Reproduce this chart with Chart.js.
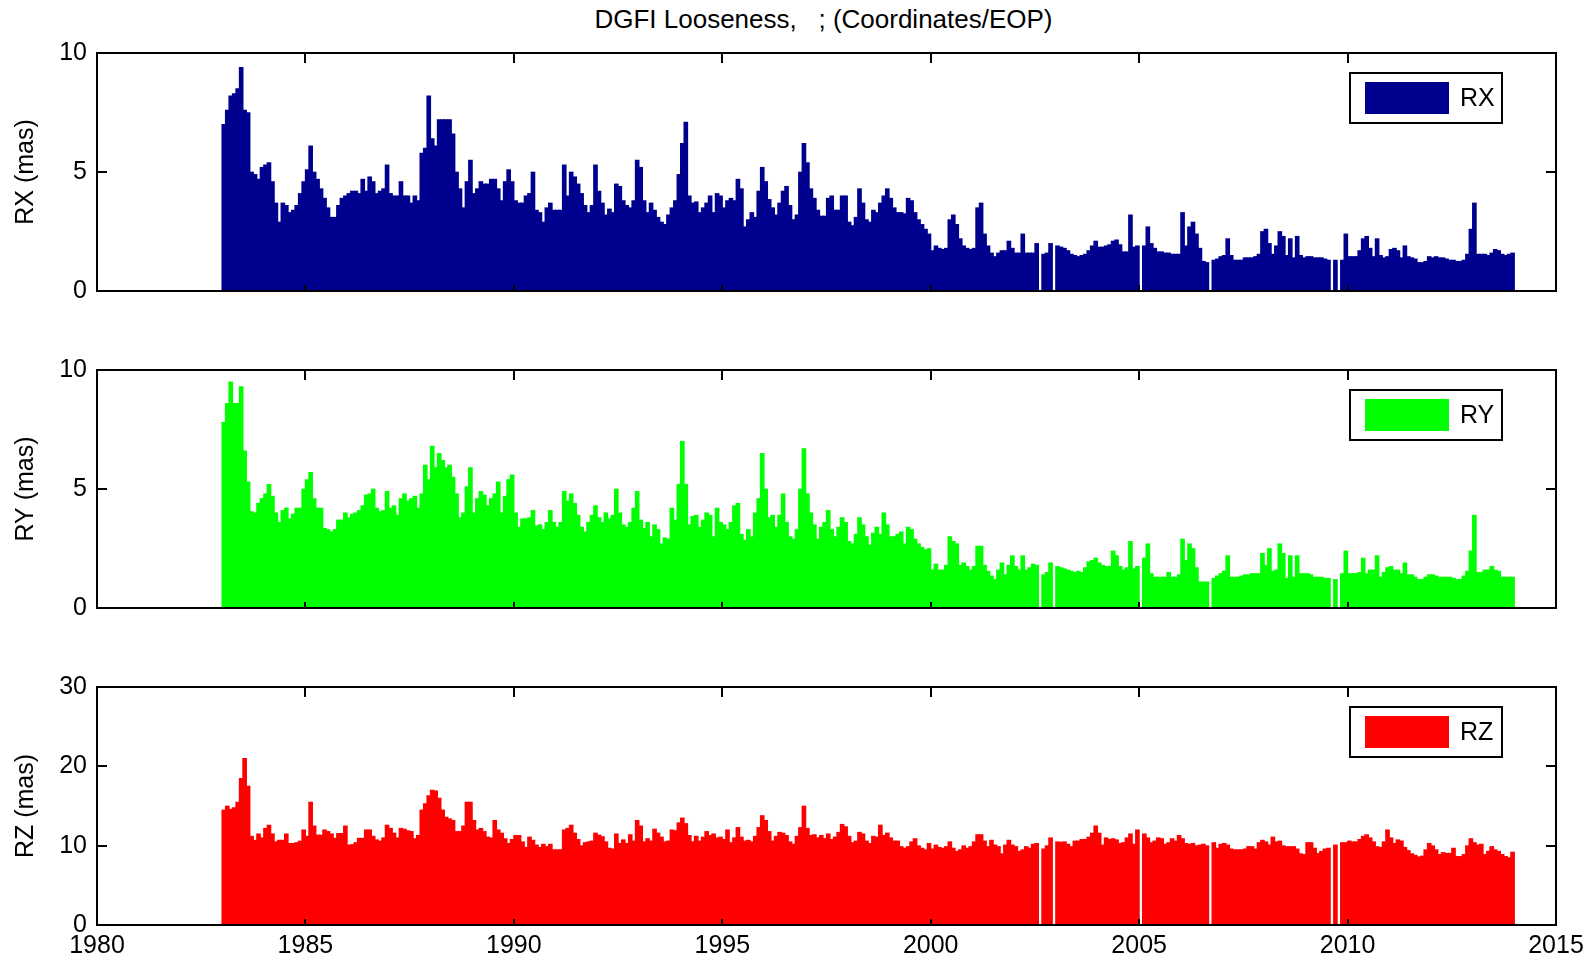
<!DOCTYPE html>
<html>
<head>
<meta charset="utf-8">
<title>DGFI Looseness</title>
<script src="https://cdn.jsdelivr.net/npm/chart.js@4.4.1/dist/chart.umd.min.js"></script>
<style>
  html, body { margin: 0; padding: 0; background: #fff; overflow: hidden; }
  body { width: 1594px; height: 957px; position: relative; font-family: 'Liberation Sans', Arial, Helvetica, sans-serif; }
  #title { position: absolute; left: 0; top: 6px; width: 1647px; text-align: center; font-size: 26px; line-height: 26px; white-space: pre; color: #000; }
  .panel { position: absolute; left: 0; width: 1594px; height: 308px; }
</style>
</head>
<body>
<div id="title">DGFI Looseness,   ; (Coordinates/EOP)</div>
<div class="panel" style="top:23px"><canvas id="rx"></canvas></div>
<div class="panel" style="top:340px"><canvas id="ry"></canvas></div>
<div class="panel" style="top:657px"><canvas id="rz"></canvas></div>
<script>
// one value per month, first bar is Jan 1983
var startYear = 1983;
var yearTicks = [1980, 1985, 1990, 1995, 2000, 2005, 2010, 2015];
var rxTicks = [0, 5, 10];
var ryTicks = [0, 5, 10];
var rzTicks = [0, 10, 20, 30];

var rx = [
  7.0, 7.6, 8.2, 8.3, 8.5, 9.4, 7.6, 7.5, 5.0, 4.9, 4.7, 5.2,
  5.3, 5.4, 4.6, 3.7, 2.9, 3.7, 3.6, 3.3, 3.4, 3.6, 4.1, 4.6,
  5.1, 6.1, 5.0, 4.7, 4.3, 3.9, 3.5, 3.1, 3.1, 3.6, 3.9, 4.0,
  4.1, 4.2, 4.2, 4.1, 4.7, 4.2, 4.8, 4.6, 4.1, 4.2, 4.3, 5.3,
  4.1, 4.0, 4.0, 4.6, 4.0, 4.0, 3.7, 4.0, 3.8, 5.8, 6.0, 8.2,
  6.4, 6.1, 7.2, 7.2, 7.2, 7.2, 6.6, 5.0, 4.3, 3.5, 4.6, 5.5,
  4.1, 4.3, 4.6, 4.5, 4.5, 4.7, 4.7, 4.3, 3.8, 4.6, 5.1, 4.6,
  3.8, 3.7, 3.7, 4.0, 4.1, 5.0, 3.4, 3.3, 2.9, 3.5, 3.7, 3.4,
  3.4, 3.4, 5.3, 4.0, 5.0, 4.8, 4.5, 4.1, 3.6, 3.3, 3.6, 5.3,
  4.2, 3.7, 3.2, 3.45, 3.3, 4.5, 4.4, 3.8, 3.6, 3.5, 3.8, 5.5,
  5.2, 3.8, 3.3, 3.7, 3.4, 3.1, 2.9, 2.8, 3.2, 3.5, 3.8, 4.9,
  6.2, 7.1, 4.0, 3.7, 3.75, 3.3, 3.5, 3.7, 4.0, 3.3, 4.1, 4.0,
  3.5, 3.8, 3.9, 3.8, 4.7, 4.3, 2.7, 3.0, 3.3, 3.1, 4.2, 5.2,
  4.6, 3.85, 3.5, 3.2, 3.7, 4.2, 4.4, 3.6, 3.0, 3.2, 5.0, 6.2,
  5.4, 4.3, 3.9, 3.4, 3.15, 3.15, 3.9, 4.0, 3.4, 3.4, 4.0, 4.0,
  2.9, 2.75, 3.1, 4.3, 3.7, 3.0, 2.9, 3.4, 3.3, 3.7, 4.0, 4.3,
  3.9, 3.5, 3.3, 3.3, 3.25, 3.9, 3.8, 3.3, 3.0, 2.8, 2.6, 2.4,
  1.7, 1.9, 1.8, 1.75, 1.8, 3.0, 3.2, 2.8, 2.2, 1.9, 1.8, 1.75,
  1.8, 3.5, 3.7, 2.4, 1.9, 1.6, 1.45, 1.6, 1.7, 1.7, 2.1, 1.8,
  1.6, 1.6, 2.4, 1.6, 1.6, 1.6, 2.0, 0, 1.55, 1.6, 2.0, 0,
  1.9, 1.85, 1.8, 1.7, 1.55, 1.5, 1.45, 1.5, 1.55, 1.7, 1.9, 2.1,
  1.85, 1.85, 1.9, 1.95, 2.1, 2.15, 1.95, 1.65, 1.65, 3.2, 1.85, 1.9,
  0, 1.9, 2.7, 2.0, 1.8, 1.65, 1.65, 1.6, 1.6, 1.55, 1.55, 1.55,
  3.3, 1.9, 2.7, 2.9, 2.4, 1.8, 1.25, 1.2, 0, 1.3, 1.35, 1.45,
  1.5, 2.2, 1.5, 1.3, 1.3, 1.3, 1.4, 1.4, 1.4, 1.45, 1.55, 2.5,
  2.6, 2.0, 1.55, 1.9, 2.5, 2.3, 1.5, 2.2, 1.4, 2.3, 1.5, 1.4,
  1.45, 1.45, 1.4, 1.4, 1.4, 1.35, 1.3, 0, 1.3, 0, 1.3, 2.4,
  1.45, 1.45, 1.45, 1.7, 2.2, 2.3, 1.8, 1.45, 2.2, 1.5, 1.4, 1.45,
  1.75, 1.8, 1.7, 1.4, 1.9, 1.45, 1.4, 1.35, 1.2, 1.2, 1.25, 1.45,
  1.4, 1.45, 1.4, 1.4, 1.35, 1.3, 1.3, 1.25, 1.25, 1.3, 1.55, 2.6,
  3.7, 1.55, 1.55, 1.55, 1.5, 1.6, 1.75, 1.7, 1.55, 1.5, 1.55, 1.6
];

var ry = [
  7.8, 8.6, 9.5, 8.6, 8.6, 9.3, 6.6, 5.3, 4.05, 4.0, 4.4, 4.6,
  4.8, 5.2, 4.7, 4.0, 3.6, 4.1, 4.2, 3.75, 3.95, 4.2, 4.2, 5.0,
  5.4, 5.7, 4.6, 4.2, 4.2, 3.35, 3.3, 3.2, 3.3, 3.7, 3.7, 4.0,
  3.8, 3.95, 4.0, 4.1, 4.3, 4.75, 4.8, 5.0, 4.2, 4.05, 4.1, 4.9,
  4.2, 4.3, 3.9, 4.6, 4.8, 4.5, 4.6, 4.7, 4.2, 4.8, 6.0, 5.4,
  6.8, 5.9, 6.5, 6.2, 5.9, 6.0, 5.5, 4.8, 3.8, 4.0, 5.1, 5.9,
  4.0, 4.6, 4.9, 4.75, 4.3, 4.6, 4.8, 5.3, 4.0, 4.7, 5.4, 5.6,
  4.0, 3.4, 3.75, 3.75, 3.8, 4.1, 3.45, 3.5, 3.3, 3.6, 4.1, 3.6,
  3.4, 3.6, 4.9, 4.5, 4.8, 4.4, 3.9, 3.4, 3.2, 3.6, 3.9, 4.3,
  3.8, 3.6, 4.0, 3.75, 3.9, 5.0, 4.0, 3.5, 3.4, 3.6, 4.2, 4.9,
  3.7, 3.35, 3.6, 3.0, 3.5, 3.3, 2.7, 2.95, 2.9, 4.2, 3.7, 5.2,
  7.0, 5.2, 3.5, 3.85, 3.9, 3.4, 3.7, 4.0, 3.9, 3.0, 4.2, 3.6,
  3.5, 3.3, 3.6, 4.3, 4.4, 3.1, 2.85, 3.3, 3.0, 4.0, 4.6, 6.5,
  5.0, 3.8, 3.9, 3.4, 3.9, 4.8, 3.6, 3.0, 2.9, 3.3, 5.0, 6.7,
  4.8, 4.0, 3.5, 2.9, 3.4, 3.6, 4.1, 3.3, 3.0, 3.4, 3.8, 3.6,
  2.8, 2.7, 3.1, 3.8, 3.5, 3.0, 2.65, 3.15, 3.4, 3.1, 4.0, 3.5,
  3.0, 3.0, 3.1, 3.2, 2.7, 3.4, 3.3, 2.9, 2.7, 2.55, 2.45, 2.5,
  1.6, 1.85, 1.6, 1.6, 1.8, 3.0, 2.8, 2.7, 1.8, 1.9, 1.75, 1.6,
  1.75, 2.6, 2.6, 1.8, 1.55, 1.35, 1.2, 1.6, 1.9, 1.4, 1.8, 2.2,
  1.75, 1.6, 2.2, 1.6, 1.7, 1.85, 1.8, 0, 1.4, 1.5, 1.9, 0,
  1.75, 1.7, 1.65, 1.6, 1.55, 1.5, 1.55, 1.5, 1.7, 1.95, 2.0, 2.1,
  1.9, 1.8, 1.75, 1.75, 2.4, 2.2, 1.75, 1.6, 1.7, 2.8, 1.65, 1.75,
  0, 2.1, 2.7, 1.45, 1.3, 1.3, 1.3, 1.3, 1.5, 1.3, 1.3, 1.4,
  2.9, 2.0, 2.7, 2.5, 1.7, 1.1, 1.1, 1.1, 0, 1.25, 1.35, 1.45,
  1.55, 2.2, 1.3, 1.3, 1.3, 1.35, 1.4, 1.4, 1.45, 1.45, 1.45, 2.3,
  1.8, 2.5, 1.55, 1.6, 2.7, 2.3, 1.25, 2.2, 1.3, 2.2, 1.45, 1.45,
  1.45, 1.4, 1.3, 1.3, 1.3, 1.25, 1.25, 0, 1.2, 0, 1.45, 2.4,
  1.45, 1.45, 1.45, 1.5, 2.1, 1.45, 1.6, 1.6, 2.2, 1.3, 1.5, 1.7,
  1.75, 1.6, 1.6, 1.45, 1.9, 1.4, 1.4, 1.3, 1.2, 1.2, 1.3, 1.4,
  1.4, 1.35, 1.3, 1.3, 1.3, 1.3, 1.25, 1.2, 1.2, 1.35, 1.55, 2.4,
  3.9, 1.5, 1.5, 1.6, 1.6, 1.75, 1.6, 1.55, 1.3, 1.3, 1.3, 1.3
];

var rz = [
  14.5, 15.0, 14.6, 14.8, 15.5, 18.5, 21.0, 17.5, 11.2, 10.7, 11.5, 11.0,
  12.2, 12.6, 11.5, 10.5, 10.7, 10.7, 11.5, 10.3, 10.3, 10.4, 10.6, 12.0,
  11.2, 15.5, 12.5, 11.35, 11.35, 12.0, 11.8, 11.5, 10.95, 11.55, 11.55, 12.5,
  10.1, 10.15, 10.4, 10.95, 10.95, 12.0, 12.0, 11.2, 10.75, 10.6, 11.0, 12.6,
  12.2, 11.6, 11.0, 12.2, 12.1, 11.9, 11.8, 10.9, 11.3, 14.5, 15.3, 16.3,
  17.0, 16.9, 16.0, 14.5, 13.6, 13.4, 13.2, 11.8, 11.8, 12.5, 15.5, 15.5,
  13.2, 12.0, 12.2, 11.8, 11.1, 11.0, 13.2, 12.0, 11.6, 10.9, 10.3, 10.8,
  11.3, 11.3, 10.5, 9.8, 11.1, 10.7, 10.1, 9.8, 10.2, 9.9, 10.2, 9.5,
  9.5, 9.5, 12.0, 12.2, 12.6, 11.6, 10.8, 10.0, 10.4, 10.5, 10.6, 11.6,
  11.35, 11.15, 10.5, 9.7, 9.6, 11.5, 10.3, 10.75, 10.3, 11.4, 10.6, 13.2,
  12.5, 10.5, 10.9, 10.6, 12.1, 11.6, 11.1, 10.5, 10.6, 12.0, 11.9, 12.9,
  13.5, 12.8, 11.3, 10.5, 11.2, 10.6, 11.1, 11.8, 11.3, 11.5, 11.0, 11.1,
  10.8, 12.0, 10.4, 11.0, 12.3, 11.1, 10.6, 10.7, 10.5, 11.2, 12.3, 13.8,
  13.2, 11.8, 10.6, 11.2, 11.7, 11.6, 11.3, 10.5, 10.2, 11.2, 12.3, 15.0,
  12.2, 11.3, 11.4, 11.0, 11.3, 10.9, 11.5, 10.8, 11.1, 11.7, 12.7, 12.4,
  11.2, 10.4, 10.6, 11.7, 11.5, 10.6, 10.3, 11.2, 11.1, 12.6, 11.3, 11.6,
  11.0, 10.6, 10.6, 9.9, 9.7, 9.9, 10.5, 10.9, 10.0, 9.7, 9.5, 10.3,
  9.6, 10.1, 9.8, 9.7, 9.9, 10.5, 9.7, 9.3, 9.5, 10.0, 9.7, 9.9,
  10.5, 11.4, 11.4, 10.6, 9.9, 10.7, 10.1, 9.9, 9.0, 10.1, 10.7, 10.1,
  9.9, 9.3, 9.5, 9.9, 9.7, 10.2, 10.3, 0, 9.6, 10.0, 11.0, 0,
  10.5, 10.45, 10.5, 10.2, 9.9, 10.6, 10.6, 10.8, 10.8, 11.1, 11.6, 12.5,
  11.6, 10.1, 11.0, 10.8, 10.9, 10.75, 10.3, 10.4, 11.0, 11.5, 10.2, 12.0,
  0, 11.5, 11.0, 10.4, 10.6, 11.0, 10.9, 10.2, 10.4, 10.9, 10.6, 11.3,
  10.9, 10.3, 10.2, 10.3, 10.0, 10.1, 10.2, 10.0, 0, 10.4, 9.7, 10.2,
  10.3, 10.1, 9.6, 9.5, 9.5, 9.5, 9.6, 9.9, 9.9, 9.6, 10.4, 10.7,
  10.5, 10.1, 11.1, 10.5, 10.6, 10.0, 9.9, 9.9, 9.9, 9.6, 9.0, 8.9,
  10.4, 10.4, 9.7, 9.05, 9.3, 9.6, 9.7, 0, 10.1, 0, 10.4, 10.4,
  10.6, 10.5, 10.5, 10.8, 11.2, 11.4, 11.0, 10.5, 9.9, 9.8, 10.5, 12.0,
  11.0, 10.3, 10.75, 10.6, 9.8, 9.4, 9.0, 8.8, 8.6, 8.7, 9.5, 10.3,
  10.0, 9.5, 8.9, 9.15, 9.05, 9.05, 9.7, 8.65, 8.65, 8.9, 10.0, 10.9,
  10.4, 10.1, 10.2, 8.9, 9.3, 9.9, 9.5, 9.3, 8.9, 8.65, 8.5, 9.2
];

var FONT = "'Liberation Sans', Arial, Helvetica, sans-serif";
Chart.defaults.font.family = FONT;
Chart.defaults.font.size = 25;
Chart.defaults.color = '#000';

// box round the axes plus the small inward tick marks
var framePlugin = {
  id: 'frame',
  afterDatasetsDraw: function (chart) {
    var a = chart.chartArea, c = chart.ctx;
    var xs = chart.scales.x, ys = chart.scales.y;
    c.save();
    c.strokeStyle = '#000';
    c.lineWidth = 2;
    c.strokeRect(a.left, a.top, a.right - a.left, a.bottom - a.top);
    c.beginPath();
    yearTicks.slice(1, -1).forEach(function (v) {
      var px = Math.round(xs.getPixelForValue(v));
      c.moveTo(px, a.top); c.lineTo(px, a.top + 10);
      c.moveTo(px, a.bottom); c.lineTo(px, a.bottom - 6);
    });
    ys.ticks.forEach(function (t) {
      var py = Math.round(ys.getPixelForValue(t.value));
      c.moveTo(a.left, py); c.lineTo(a.left + 10, py);
      c.moveTo(a.right, py); c.lineTo(a.right - 10, py);
    });
    c.stroke();
    c.restore();
  }
};

// matlab style legend: framed box with a wide colour patch
var legendPlugin = {
  id: 'boxLegend',
  afterDraw: function (chart) {
    var a = chart.chartArea, c = chart.ctx, ds = chart.data.datasets[0];
    var w = 152, h = 50;
    var x = a.right - 54 - w, y = a.top + 20;
    c.save();
    c.fillStyle = '#fff';
    c.fillRect(x, y, w, h);
    c.strokeStyle = '#000';
    c.lineWidth = 2;
    c.strokeRect(x, y, w, h);
    c.fillStyle = ds.backgroundColor;
    c.fillRect(x + 15, y + 9, 84, 32);
    c.fillStyle = '#000';
    c.font = '25px ' + FONT;
    c.textBaseline = 'middle';
    c.fillText(ds.label, x + 110, y + h / 2 + 1);
    c.restore();
  }
};

function makePanel(id, label, values, color, yTicks, showX) {
  var points = values.map(function (v, i) {
    return { x: startYear + (i + 0.5) / 12, y: v };
  });
  return new Chart(document.getElementById(id), {
    type: 'bar',
    data: {
      datasets: [{
        label: label,
        data: points,
        backgroundColor: color,
        borderWidth: 0,
        barThickness: 4
      }]
    },
    options: {
      responsive: true,
      maintainAspectRatio: false,
      animation: false,
      layout: { padding: { top: 30, right: 38, left: 0, bottom: 0 } },
      plugins: { legend: { display: false }, tooltip: { enabled: false } },
      scales: {
        x: {
          type: 'linear',
          min: 1980,
          max: 2015,
          offset: false,
          grid: { display: false, drawTicks: false },
          border: { display: false },
          afterBuildTicks: function (s) {
            s.ticks = yearTicks.map(function (v) { return { value: v }; });
          },
          ticks: {
            display: showX,
            padding: 6,
            maxRotation: 0,
            autoSkip: false,
            callback: function (v) { return String(v); }
          },
          afterFit: function (s) { s.height = 40; }
        },
        y: {
          min: yTicks[0],
          max: yTicks[yTicks.length - 1],
          grid: { display: false, drawTicks: false },
          border: { display: false },
          afterBuildTicks: function (s) {
            s.ticks = yTicks.map(function (v) { return { value: v }; });
          },
          ticks: { padding: 10 },
          title: { display: true, text: label + ' (mas)', padding: { top: 11, bottom: 0 } },
          afterFit: function (s) { s.width = 97; }
        }
      }
    },
    plugins: [framePlugin, legendPlugin]
  });
}

makePanel('rx', 'RX', rx, 'rgb(0,0,143)', rxTicks, false);
makePanel('ry', 'RY', ry, 'rgb(0,255,0)', ryTicks, false);
makePanel('rz', 'RZ', rz, 'rgb(255,0,0)', rzTicks, true);
</script>
</body>
</html>
